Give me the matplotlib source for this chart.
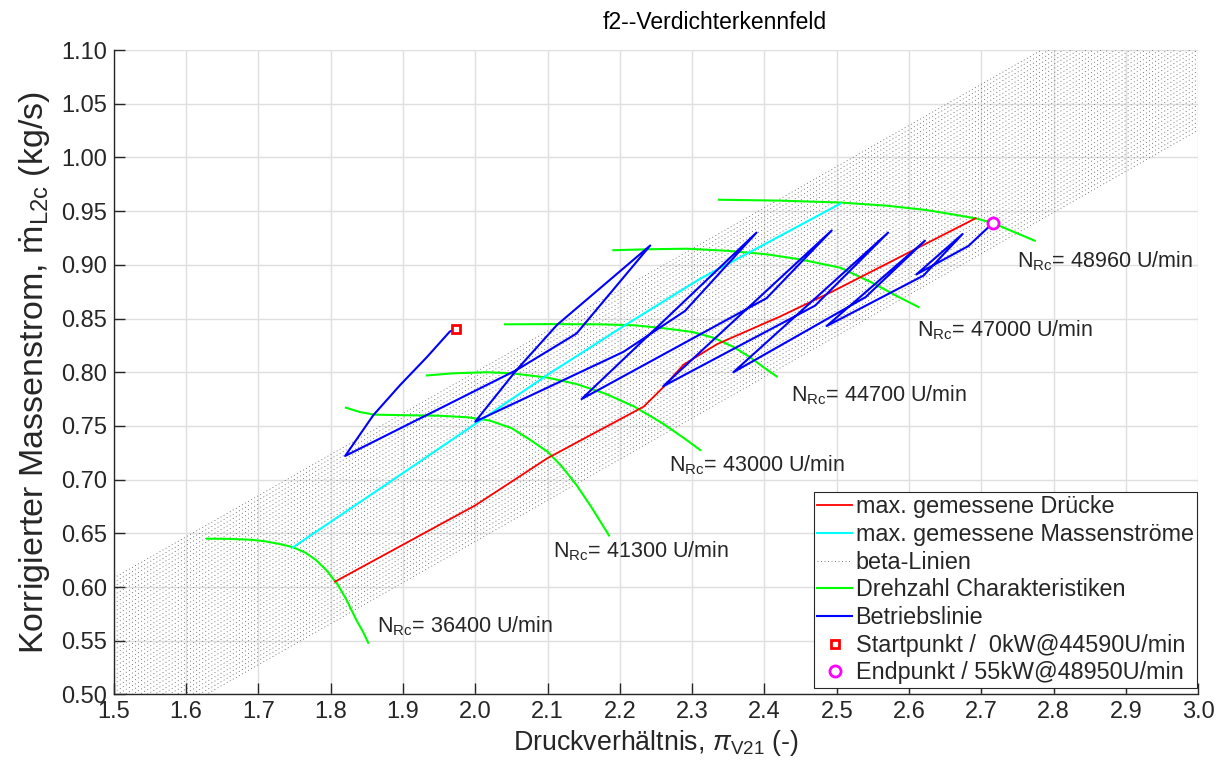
import numpy as np
import matplotlib
matplotlib.use("Agg")
import matplotlib.pyplot as plt

plt.rcParams['font.family'] = ['Liberation Sans', 'DejaVu Sans']
plt.rcParams['mathtext.fontset'] = 'custom'
plt.rcParams['mathtext.rm'] = 'Liberation Sans'
plt.rcParams['mathtext.it'] = 'Liberation Sans:italic'

# Speed lines (Drehzahl Charakteristiken)
speed_labels = ["36400", "41300", "43000", "44700", "47000", "48960"]
n36400_x = [1.629, 1.66, 1.69, 1.71, 1.73, 1.748, 1.765, 1.78, 1.795,
            1.81, 1.822, 1.835, 1.845, 1.852]
n36400_y = [0.645, 0.6448, 0.644, 0.6425, 0.640, 0.637, 0.632, 0.625,
            0.615, 0.602, 0.588, 0.570, 0.558, 0.548]
n41300_x = [1.821, 1.84, 1.86, 1.90, 1.95, 1.99, 2.02, 2.05, 2.076, 2.10,
            2.12, 2.14, 2.16, 2.185]
n41300_y = [0.767, 0.763, 0.7605, 0.760, 0.7595, 0.758, 0.755, 0.748,
            0.737, 0.726, 0.712, 0.695, 0.675, 0.648]
n43000_x = [1.933, 1.97, 2.016, 2.05, 2.10, 2.14, 2.18, 2.22, 2.26, 2.29,
            2.311]
n43000_y = [0.797, 0.799, 0.800, 0.799, 0.795, 0.789, 0.780, 0.768, 0.752,
            0.738, 0.7276]
n44700_x = [2.041, 2.10, 2.173, 2.22, 2.26, 2.30, 2.33, 2.357, 2.38, 2.40,
            2.417]
n44700_y = [0.8446, 0.8448, 0.8446, 0.8437, 0.841, 0.8375, 0.832, 0.8236,
            0.814, 0.804, 0.796]
n47000_x = [2.191, 2.24, 2.293, 2.35, 2.403, 2.45, 2.505, 2.55, 2.58, 2.613]
n47000_y = [0.9136, 0.9145, 0.915, 0.913, 0.9098, 0.905, 0.8973, 0.883,
            0.872, 0.8607]
n48960_x = [2.337, 2.42, 2.505, 2.57, 2.624, 2.66, 2.694, 2.717, 2.744,
            2.774]
n48960_y = [0.9606, 0.9598, 0.958, 0.955, 0.951, 0.947, 0.943, 0.9386,
            0.9309, 0.9224]
speed_x = [n36400_x, n41300_x, n43000_x, n44700_x, n47000_x, n48960_x]
speed_y = [n36400_y, n41300_y, n43000_y, n44700_y, n47000_y, n48960_y]
label_x = [1.864, 2.108, 2.268, 2.437, 2.611, 2.749]
label_y = [0.558, 0.628, 0.708, 0.773, 0.833, 0.898]

# Max. measured pressures / mass flows
pmax_x = [1.806, 2.000, 2.100, 2.233, 2.260, 2.288, 2.334, 2.422, 2.495, 2.692]
pmax_y = [0.605, 0.676, 0.720, 0.768, 0.786, 0.807, 0.826, 0.852, 0.8755, 0.9433]
mmax_x = [1.748, 1.891, 2.103, 2.210, 2.311, 2.505]
mmax_y = [0.637, 0.702, 0.799, 0.845, 0.887, 0.957]

# beta lines: outermost lines given by two points each, n lines in between
beta_x = [1.5, 3.0]
beta_lo = [0.451, 1.0255]
beta_hi = [0.6084, 1.183]
n_beta = 41

# Operating line
op_x = [1.973, 1.965, 1.933, 1.896, 1.859, 1.820, 2.057, 2.140, 2.242,
        2.113, 2.057, 2.000, 2.205, 2.290, 2.389, 2.147, 2.403, 2.493,
        2.260, 2.470, 2.571, 2.357, 2.540, 2.622, 2.486, 2.620, 2.674,
        2.610, 2.682, 2.716]
op_y = [0.840, 0.838, 0.814, 0.788, 0.760, 0.722, 0.802, 0.836, 0.918,
        0.844, 0.802, 0.754, 0.819, 0.857, 0.930, 0.775, 0.869, 0.932,
        0.787, 0.862, 0.930, 0.800, 0.870, 0.9225, 0.843, 0.890, 0.9287,
        0.891, 0.9175, 0.939]

start_pt = (1.973, 0.840)
end_pt = (2.716, 0.939)

fig = plt.figure(figsize=(12.27, 7.72), dpi=100)
ax = fig.add_axes([0.0927, 0.1005, 0.8839, 0.8347])

txt = '#262626'

h_p, = ax.plot(pmax_x, pmax_y, color='#ff0000', lw=1.3, zorder=4)
h_m, = ax.plot(mmax_x, mmax_y, color='#00ffff', lw=1.5, zorder=4)

w = np.linspace(0.0, 1.0, n_beta)
h_b = None
for wi in w:
    yy = [lo + wi * (hi - lo) for lo, hi in zip(beta_lo, beta_hi)]
    h_b, = ax.plot(beta_x, yy, color='#4a4a4a', lw=0.55,
                   linestyle=(0, (1.2, 3.4)), zorder=2)

h_s = None
for sx, sy in zip(speed_x, speed_y):
    h_s, = ax.plot(sx, sy, color='#00ff00', lw=1.5, zorder=3)

h_o, = ax.plot(op_x, op_y, color='#0000ff', lw=1.5, zorder=5)

h_start, = ax.plot(*start_pt, linestyle='none', marker='s', ms=6,
                   mfc='white', mec='#ff0000', mew=2, zorder=6)
h_end, = ax.plot(*end_pt, linestyle='none', marker='o', ms=8,
                 mfc='white', mec='#ff00ff', mew=2, zorder=6)

for lx, ly, s in zip(label_x, label_y, speed_labels):
    ax.text(lx, ly, r"N$_{\mathregular{Rc}}$= " + s + " U/min",
            fontsize=15.5, color=txt, ha='left', va='baseline')

ax.set_xlim(1.5, 3.0)
ax.set_ylim(0.5, 1.1)
ax.set_xticks(np.arange(1.5, 3.001, 0.1))
ax.set_yticks(np.arange(0.5, 1.1001, 0.05))
ax.xaxis.set_major_formatter(matplotlib.ticker.FormatStrFormatter('%.1f'))
ax.yaxis.set_major_formatter(matplotlib.ticker.FormatStrFormatter('%.2f'))
ax.tick_params(direction='in', length=8, width=1, colors=txt,
               labelsize=17, pad=5)
ax.grid(True, color='#dfdfdf', lw=1)
ax.set_axisbelow(True)
for side in ('top', 'right'):
    ax.spines[side].set_visible(False)
for side in ('left', 'bottom'):
    ax.spines[side].set_color(txt)
    ax.spines[side].set_linewidth(1)

ax.set_xlabel(r"Druckverhältnis, $\pi_{\mathregular{V21}}$ (-)",
              fontsize=19.3, color=txt, labelpad=3)
ax.set_ylabel("Korrigierter Massenstrom, ṁ$_{\\mathregular{L2c}}$ (kg/s)",
              fontsize=24.5, color=txt, labelpad=6)
ax.set_title("f2--Verdichterkennfeld", fontsize=16.5, color='black',
             x=0.554, pad=15)

leg = ax.legend([h_p, h_m, h_b, h_s, h_o, h_start, h_end],
                ["max. gemessene Drücke", "max. gemessene Massenströme",
                 "beta-Linien", "Drehzahl Charakteristiken", "Betriebslinie",
                 "Startpunkt /  0kW@44590U/min",
                 "Endpunkt / 55kW@48950U/min"],
                loc='lower right', bbox_to_anchor=(0.9989, 0.01),
                borderaxespad=0, fontsize=16.8, handlelength=1.5,
                handletextpad=0.15, labelspacing=0.2, borderpad=0.15,
                fancybox=False, framealpha=1, edgecolor='#262626')
leg.get_frame().set_linewidth(0.8)
for t in leg.get_texts():
    t.set_color(txt)

fig.savefig("out.png", dpi=100)
